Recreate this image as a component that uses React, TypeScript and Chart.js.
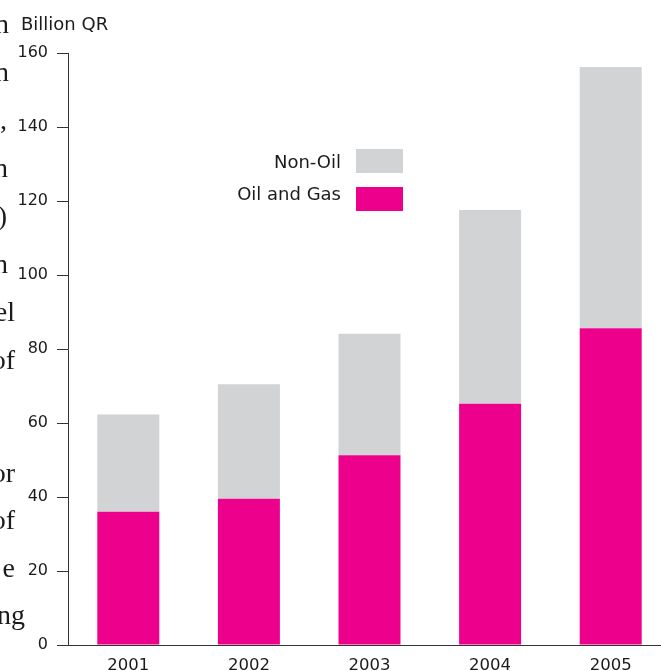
import React, { useEffect, useRef } from "react";
import { Chart, registerables } from "chart.js";

Chart.register(...registerables);

const years = ["2001", "2002", "2003", "2004", "2005"];
const oilAndGas = [36.0, 39.5, 51.3, 65.2, 85.6];
const nonOil = [26.3, 31.0, 32.8, 52.4, 70.6];
const yTicks = [0, 20, 40, 60, 80, 100, 120, 140, 160];

const unitLabel = "Billion QR";
const legendNonOil = "Non-Oil";
const legendOil = "Oil and Gas";

// clipped text fragments of the neighbouring column (as in the reference)
const sideText = ["n", "n", ",", "n", ")", "n", "el", "of", "or", "of", "e", "ng"];
const sideBaselines = [33, 81, 129, 177, 225, 273, 321, 369, 482, 529, 577, 624];
const sideRight = [9, 9, 7, 8, 7, 8, 15, 15, 15, 15, 15, 25];

const PINK = "#ec008c";
const GREY = "#d1d3d4";
const INK = "#1c1a1b";
const SANS = "'DejaVu Sans', sans-serif";

export default function App() {
  const ref = useRef<HTMLCanvasElement | null>(null);

  useEffect(() => {
    if (!ref.current) return;
    const chart = new Chart(ref.current, {
      type: "bar",
      data: {
        labels: years,
        datasets: [
          {
            label: legendOil,
            data: oilAndGas,
            backgroundColor: PINK,
            borderWidth: 0,
            barPercentage: 0.514,
            categoryPercentage: 1,
          },
          {
            label: legendNonOil,
            data: nonOil,
            backgroundColor: GREY,
            borderWidth: 0,
            barPercentage: 0.514,
            categoryPercentage: 1,
          },
        ],
      },
      options: {
        responsive: false,
        animation: false,
        layout: { padding: { top: 53, left: 0, right: 0, bottom: 0 } },
        plugins: { legend: { display: false }, tooltip: { enabled: false } },
        scales: {
          x: {
            stacked: true,
            grid: { display: false, drawTicks: false },
            border: { display: true, color: "#333", width: 1 },
            ticks: {
              color: INK,
              font: { family: SANS, size: 16.5 },
              padding: 11,
            },
            afterFit: (s: any) => {
              s.height = 26;
            },
          },
          y: {
            stacked: true,
            min: 0,
            max: 160,
            grid: {
              display: true,
              drawOnChartArea: false,
              drawTicks: true,
              tickLength: 11,
              color: "#333",
            },
            border: { display: true, color: "#333", width: 1 },
            ticks: {
              stepSize: 20,
              color: INK,
              font: { family: SANS, size: 16 },
              padding: 9,
              callback: (v: any) => (yTicks.includes(Number(v)) ? String(v) : ""),
            },
            afterFit: (s: any) => {
              s.width = 68;
            },
          },
        },
      },
    });
    return () => chart.destroy();
  }, []);

  return (
    <div
      style={{
        position: "fixed",
        left: 0,
        top: 0,
        width: 661,
        height: 671,
        overflow: "hidden",
        background: "#fff",
      }}
    >
      <canvas
        ref={ref}
        width={671}
        height={671}
        style={{ position: "absolute", left: 0, top: 0, width: 671, height: 671 }}
      />
      {sideText.map((t, i) => (
        <span
          key={i}
          style={{
            position: "absolute",
            right: 661 - sideRight[i],
            top: sideBaselines[i] - 23.5,
            fontFamily: "'Liberation Serif', serif",
            fontSize: 28,
            lineHeight: "28px",
            color: INK,
            whiteSpace: "nowrap",
          }}
        >
          {t}
        </span>
      ))}
      <div
        style={{
          position: "absolute",
          left: 21,
          top: 15,
          fontFamily: SANS,
          fontSize: 18,
          lineHeight: "18px",
          color: INK,
          whiteSpace: "nowrap",
        }}
      >
        {unitLabel}
      </div>
      <div
        style={{
          position: "absolute",
          right: 661 - 341,
          top: 153,
          fontFamily: SANS,
          fontSize: 18,
          lineHeight: "18px",
          color: INK,
          whiteSpace: "nowrap",
        }}
      >
        {legendNonOil}
      </div>
      <div
        style={{
          position: "absolute",
          left: 356,
          top: 149,
          width: 47,
          height: 24,
          background: GREY,
        }}
      />
      <div
        style={{
          position: "absolute",
          right: 661 - 341,
          top: 185,
          fontFamily: SANS,
          fontSize: 18,
          lineHeight: "18px",
          color: INK,
          whiteSpace: "nowrap",
        }}
      >
        {legendOil}
      </div>
      <div
        style={{
          position: "absolute",
          left: 356,
          top: 187,
          width: 47,
          height: 24,
          background: PINK,
        }}
      />
    </div>
  );
}
